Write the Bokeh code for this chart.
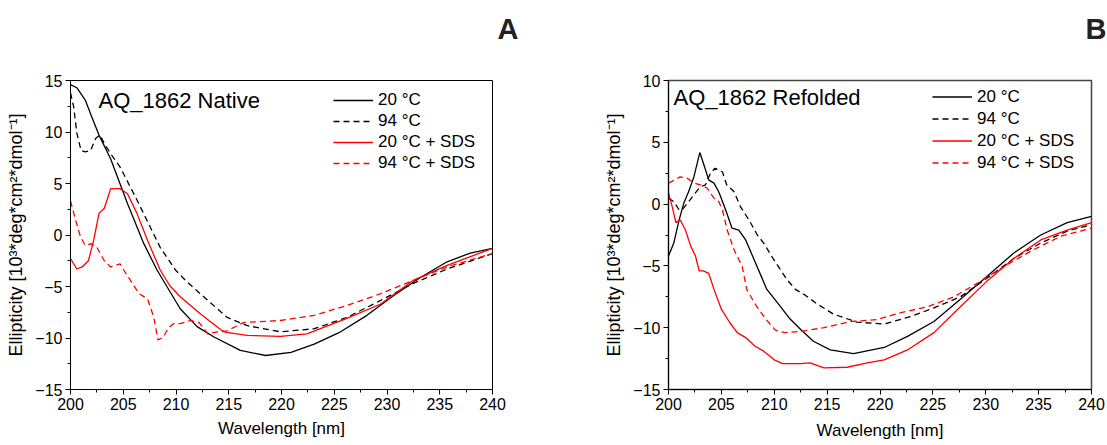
from bokeh.plotting import figure
from bokeh.layouts import row
from bokeh.models import Range1d, FixedTicker, Legend, LegendItem, Label, Title
from bokeh.embed import file_html
from bokeh.resources import INLINE

FONT = "Liberation Sans"

# ---------------- Panel A : AQ_1862 Native ----------------
nat_20_wl = [200.0, 200.6, 201.4, 202.0, 202.7, 203.8, 205.4, 206.95, 208.2, 210.4, 212.0,
             213.6, 216.1, 218.5, 220.9, 223.1, 225.6, 228.1, 230.6, 233.2, 235.7, 237.9, 240.0]
nat_20_el = [14.6, 14.3, 13.1, 11.5, 9.7, 7.4, 3.05, -0.84, -3.4, -7.16, -8.9,
             -9.9, -11.2, -11.7, -11.4, -10.6, -9.4, -7.8, -5.9, -4.1, -2.6, -1.75, -1.3]

nat_94_wl = [200.0, 200.3, 200.6, 201.0, 201.4, 201.9, 202.4, 202.8, 203.2, 203.8, 204.7, 206.3,
             208.5, 209.95, 210.9, 212.3, 214.85, 216.75, 219.9, 223.1, 226.2, 229.4, 232.5, 235.7, 240.0]
nat_94_el = [13.8, 12.45, 9.9, 8.2, 8.07, 8.2, 9.4, 9.7, 8.9, 7.9, 6.6, 3.4,
             -1.2, -3.4, -4.4, -5.7, -8.0, -8.8, -9.4, -9.1, -8.0, -6.35, -4.7, -3.3, -1.8]

nat_20sds_wl = [200.0, 200.6, 201.1, 201.7, 202.2, 202.7, 203.2, 203.5, 203.8, 204.7, 205.4, 206.3,
                207.3, 208.5, 209.4, 210.4, 212.3, 214.5, 216.75, 219.9, 222.4, 226.2, 229.4, 232.5,
                235.7, 240.0]
nat_20sds_el = [-2.3, -3.3, -3.1, -2.5, -0.5, 2.1, 2.6, 3.5, 4.5, 4.5, 4.0, 2.1,
                -0.5, -3.4, -4.9, -6.0, -7.65, -9.4, -9.75, -9.85, -9.6, -8.1, -6.7, -4.4,
                -2.95, -1.3]

nat_94sds_wl = [200.0, 200.5, 200.95, 201.4, 202.0, 202.5, 203.2, 203.8, 204.7, 205.05, 205.8,
                206.5, 207.3, 207.9, 208.3, 208.8, 209.3, 209.8, 210.4, 211.4, 212.2, 213.0, 213.9,
                214.85, 216.4, 219.9, 223.1, 226.2, 229.4, 232.5, 235.7, 240.0]
nat_94sds_el = [3.3, 1.4, -0.2, -1.0, -0.85, -1.2, -2.5, -3.1, -2.8, -3.4, -4.6,
                -5.7, -6.2, -8.0, -10.2, -9.9, -9.0, -8.6, -8.6, -8.3, -8.5, -9.6, -9.4,
                -9.3, -8.5, -8.3, -7.8, -6.85, -5.7, -4.4, -3.1, -1.8]

# ---------------- Panel B : AQ_1862 Refolded ----------------
ref_20_wl = [200.0, 200.5, 201.0, 201.45, 201.9, 202.4, 202.96, 203.3, 203.8, 204.3, 204.75, 205.4,
             206.0, 206.65, 207.3, 208.1, 209.3, 210.5, 211.5, 212.5, 213.7, 215.3, 217.5, 220.4,
             222.6, 225.1, 227.6, 230.1, 232.65, 235.2, 237.7, 240.0]
ref_20_el = [-4.2, -3.15, -1.3, 0.08, 1.0, 2.2, 4.17, 3.3, 1.96, 1.7, 1.0, -0.46,
             -1.94, -2.1, -2.9, -4.5, -6.9, -8.2, -9.3, -10.15, -11.1, -11.8, -12.1, -11.6,
             -10.7, -9.5, -7.7, -5.85, -3.96, -2.5, -1.5, -1.0]

ref_94_wl = [200.0, 200.5, 201.0, 201.3, 201.8, 202.4, 203.0, 203.5, 203.97, 204.4, 205.1, 205.5,
             206.2, 206.8, 207.6, 208.4, 209.0, 209.96, 211.2, 212.0, 212.8, 214.1, 215.6, 217.8,
             220.4, 222.9, 225.1, 227.6, 230.1, 232.65, 235.2, 237.65, 240.0]
ref_94_el = [0.48, 0.2, -0.46, -0.46, 0.08, 0.75, 1.4, 1.56, 2.5, 2.9, 2.6, 1.56,
             1.0, -0.2, -1.27, -2.5, -3.15, -4.5, -6.1, -6.9, -7.3, -8.1, -8.9, -9.55,
             -9.7, -9.1, -8.4, -7.5, -6.0, -4.4, -3.15, -2.2, -1.67]

ref_20sds_wl = [200.0, 200.35, 200.7, 201.1, 201.6, 202.1, 202.55, 202.9, 203.3, 203.8, 204.3, 205.0,
                205.8, 206.5, 207.3, 208.2, 209.0, 210.0, 210.8, 212.5, 213.4, 214.7, 216.9, 218.8,
                220.4, 222.6, 225.1, 227.6, 230.1, 232.65, 235.2, 237.7, 240.0]
ref_20sds_el = [0.9, -0.2, -1.5, -1.27, -2.1, -3.4, -4.2, -5.4, -5.4, -5.6, -6.9, -8.5,
                -9.6, -10.4, -10.8, -11.5, -11.9, -12.6, -12.9, -12.9, -12.85, -13.25, -13.2, -12.85,
                -12.6, -11.8, -10.4, -8.3, -6.25, -4.4, -2.9, -2.1, -1.5]

ref_94sds_wl = [200.0, 200.6, 201.1, 201.75, 202.4, 203.0, 203.65, 204.3, 204.75, 205.1, 205.55, 206.2,
                206.97, 207.4, 208.2, 209.2, 210.1, 211.0, 212.5, 214.7, 217.2, 219.7, 221.9, 224.5,
                227.0, 229.5, 232.0, 234.5, 237.1, 240.0]
ref_94sds_el = [1.7, 1.96, 2.2, 2.1, 1.7, 1.56, 1.3, 0.48, 0.2, -0.46, -2.1, -3.7,
                -5.04, -6.9, -8.1, -9.3, -10.2, -10.4, -10.3, -10.0, -9.5, -9.35, -8.8, -8.3,
                -7.5, -6.25, -4.9, -3.7, -2.6, -1.94]

series_labels = ["20 °C", "94 °C", "20 °C + SDS", "94 °C + SDS"]
x_ticks = [200, 205, 210, 215, 220, 225, 230, 235, 240]
x_minor = [202.5, 207.5, 212.5, 217.5, 222.5, 227.5, 232.5, 237.5]
y_ticks_a = [-15, -10, -5, 0, 5, 10, 15]
y_minor_a = [-12.5, -7.5, -2.5, 2.5, 7.5, 12.5]
y_ticks_b = [-15, -10, -5, 0, 5, 10]
y_minor_b = [-12.5, -7.5, -2.5, 2.5, 7.5]

Y_LABEL = "Ellipticity [10³*deg*cm²*dmol⁻¹]"
X_LABEL = "Wavelength [nm]"


def make_panel(width, ymin, ymax, yticks, yminor, border_l, border_r, border_b,
               series, title, title_xy, letter, letter_offset, legend_loc, row_h,
               xlabel_standoff, ylabel_standoff, outline_color, outline_w):
    p = figure(width=width, height=445, output_backend="svg", toolbar_location=None,
               x_range=Range1d(200, 240), y_range=Range1d(ymin, ymax),
               min_border_left=border_l, min_border_right=border_r,
               min_border_top=80, min_border_bottom=border_b)
    p.xgrid.visible = False
    p.ygrid.visible = False
    p.background_fill_color = "white"
    p.border_fill_color = "white"
    p.outline_line_color = outline_color
    p.outline_line_width = outline_w
    p.outline_line_alpha = 1

    p.xaxis.ticker = FixedTicker(ticks=x_ticks, minor_ticks=x_minor)
    p.yaxis.ticker = FixedTicker(ticks=yticks, minor_ticks=yminor)
    for ax in (p.xaxis[0], p.yaxis[0]):
        ax.axis_line_color = "black"
        ax.major_tick_line_color = "black"
        ax.minor_tick_line_color = "black"
        ax.major_tick_in = 0
        ax.major_tick_out = 5
        ax.minor_tick_in = 0
        ax.minor_tick_out = 3
        ax.major_label_text_font = FONT
        ax.major_label_text_font_size = "16px"
        ax.major_label_text_color = "black"
        ax.major_label_standoff = 3
        ax.axis_label_text_font = FONT
        ax.axis_label_text_font_style = "normal"
        ax.axis_label_text_color = "black"
    p.xaxis.axis_label_text_font_size = "17px"
    p.yaxis.axis_label_text_font_size = "18px"
    p.xaxis.axis_label = X_LABEL
    p.yaxis.axis_label = Y_LABEL
    p.xaxis.axis_label_standoff = xlabel_standoff
    p.yaxis.axis_label_standoff = ylabel_standoff

    styles = [("black", None), ("black", "6 4"), ("red", None), ("red", "6 4")]
    items = []
    for (wl, el), (col, dash), lab in zip(series, styles, series_labels):
        kw = dict(line_color=col, line_width=1.3)
        if dash:
            kw["line_dash"] = dash
        r = p.line(wl, el, **kw)
        items.append(LegendItem(label=lab, renderers=[r]))

    leg = Legend(items=items, location=legend_loc)
    leg.background_fill_alpha = 0
    leg.border_line_alpha = 0
    leg.padding = 0
    leg.margin = 0
    leg.spacing = 1
    leg.label_height = row_h
    leg.glyph_height = row_h
    leg.glyph_width = 40
    leg.label_standoff = 5
    leg.label_text_font = FONT
    leg.label_text_font_size = "17px"
    leg.label_text_color = "black"
    p.add_layout(leg)

    p.add_layout(Label(x=title_xy[0], y=title_xy[1], text=title, text_font=FONT,
                       text_font_size="22px", text_baseline="middle", text_align="left",
                       text_color="black"))
    # trailing blank line lifts the panel letter up toward the top of the page
    p.add_layout(Title(text=letter + "\n ", align="right", offset=letter_offset, standoff=8,
                       text_font=FONT, text_font_size="29px", text_font_style="bold",
                       text_color="#222222"), "above")
    return p


pA = make_panel(560, -15, 15, y_ticks_a, y_minor_a, 70, 68, 56,
                [(nat_20_wl, nat_20_el), (nat_94_wl, nat_94_el),
                 (nat_20sds_wl, nat_20sds_el), (nat_94sds_wl, nat_94sds_el)],
                "AQ_1862 Native", (202.65, 13.1), "A", -26, (263, 216), 20,
                6, 6, "black", 1)

pB = make_panel(547, -15, 10, y_ticks_b, y_minor_b, 108, 16, 55,
                [(ref_20_wl, ref_20_el), (ref_94_wl, ref_94_el),
                 (ref_20sds_wl, ref_20sds_el), (ref_94sds_wl, ref_94sds_el)],
                "AQ_1862 Refolded", (200.47, 8.59), "B", -15, (264, 216), 21,
                8, 6, "#444444", 1.5)

layout = row(pA, pB)
open("out.html", "w").write(file_html(layout, INLINE))
